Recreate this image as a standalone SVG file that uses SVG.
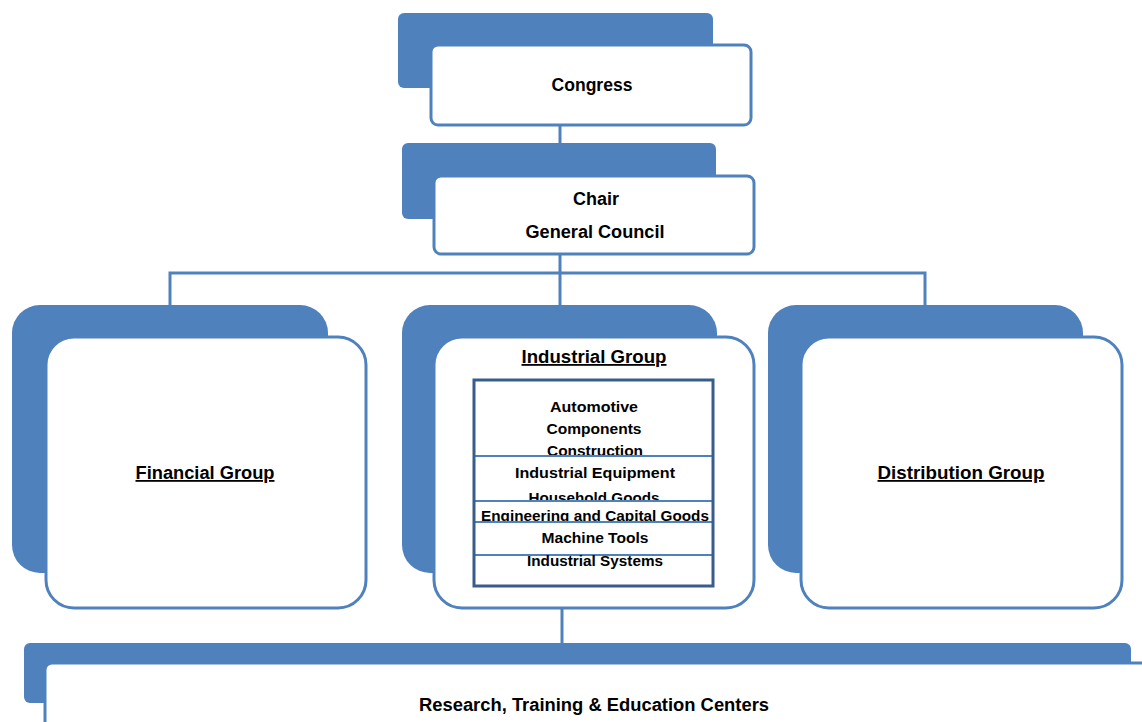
<svg xmlns="http://www.w3.org/2000/svg" width="1142" height="722" viewBox="0 0 1142 722">
  <style>
    .back { fill: #4f81bd; }
    .front { fill: #ffffff; stroke: #4f81bd; stroke-width: 3; }
    .conn { stroke: #4f81bd; stroke-width: 3; fill: none; }
    .cell { fill: #ffffff; stroke: #4f81bd; stroke-width: 2; }
    .frame { fill: none; stroke: #385d8a; stroke-width: 3; }
    text { font-family: "Liberation Sans", Arial, sans-serif; font-weight: bold; fill: #000; text-anchor: middle; }
    .t18 { font-size: 18px; }
    .t15 { font-size: 15px; }
    .u { text-decoration: underline; }
  </style>

  <rect width="1142" height="722" fill="#ffffff"/>

  <!-- connectors -->
  <g id="connectors">
    <line class="conn" x1="560" y1="124" x2="560" y2="176"/>
    <line class="conn" x1="560" y1="253" x2="560" y2="306"/>
    <polyline class="conn" points="170,306 170,273 925,273 925,306"/>
    <line class="conn" x1="562" y1="608" x2="562" y2="644"/>
  </g>

  <!-- Congress -->
  <g id="congress">
    <rect class="back" x="398" y="13" width="315" height="75" rx="6"/>
    <rect class="front" x="431" y="45" width="320" height="80" rx="7"/>
    <text class="t18" x="592" y="91" textLength="81" lengthAdjust="spacingAndGlyphs">Congress</text>
  </g>

  <!-- Chair / General Council -->
  <g id="chair">
    <rect class="back" x="402" y="143" width="314" height="76" rx="6"/>
    <rect class="front" x="434" y="176" width="320" height="78" rx="7"/>
    <text class="t18" x="596" y="205" textLength="46" lengthAdjust="spacingAndGlyphs">Chair</text>
    <text class="t18" x="595" y="238" textLength="139" lengthAdjust="spacingAndGlyphs">General Council</text>
  </g>

  <!-- Financial Group -->
  <g id="financial">
    <rect class="back" x="12" y="305" width="316" height="268" rx="28"/>
    <rect class="front" x="46" y="337" width="320" height="271" rx="28"/>
    <text class="t18 u" x="205" y="479" textLength="139" lengthAdjust="spacingAndGlyphs">Financial Group</text>
  </g>

  <!-- Industrial Group -->
  <g id="industrial">
    <rect class="back" x="402" y="305" width="315" height="268" rx="28"/>
    <rect class="front" x="434" y="337" width="320" height="271" rx="28"/>
    <text class="t18 u" x="594" y="363" textLength="145" lengthAdjust="spacingAndGlyphs">Industrial Group</text>

    <g id="industrial-sectors">
      <rect class="cell" x="474" y="380" width="239" height="76"/>
      <text class="t15" x="594" y="412" textLength="88" lengthAdjust="spacingAndGlyphs">Automotive</text>
      <text class="t15" x="594" y="434" textLength="95" lengthAdjust="spacingAndGlyphs">Components</text>
      <text class="t15" x="595" y="456" textLength="96" lengthAdjust="spacingAndGlyphs">Construction</text>

      <rect class="cell" x="474" y="456" width="239" height="45"/>
      <text class="t15" x="595" y="478" textLength="160" lengthAdjust="spacingAndGlyphs">Industrial  Equipment</text>
      <text class="t15" x="594" y="503" textLength="131" lengthAdjust="spacingAndGlyphs">Household Goods</text>

      <rect class="cell" x="474" y="501" width="239" height="21"/>
      <text class="t15" x="595" y="521" textLength="228" lengthAdjust="spacingAndGlyphs">Engineering and Capital Goods</text>

      <rect class="cell" x="474" y="522" width="239" height="33"/>
      <text class="t15" x="595" y="543" textLength="107" lengthAdjust="spacingAndGlyphs">Machine Tools</text>

      <rect class="cell" x="474" y="555" width="239" height="31"/>
      <text class="t15" x="595" y="566" textLength="136" lengthAdjust="spacingAndGlyphs">Industrial Systems</text>

      <rect class="frame" x="474" y="380" width="239" height="206"/>
    </g>
  </g>

  <!-- Distribution Group -->
  <g id="distribution">
    <rect class="back" x="768" y="305" width="315" height="268" rx="28"/>
    <rect class="front" x="801" y="337" width="321" height="271" rx="28"/>
    <text class="t18 u" x="961" y="479" textLength="167" lengthAdjust="spacingAndGlyphs">Distribution Group</text>
  </g>

  <!-- Research, Training & Education Centers -->
  <g id="research">
    <rect class="back" x="24" y="643" width="1107" height="60" rx="6"/>
    <rect class="front" x="45" y="663" width="1120" height="80" rx="7"/>
    <text class="t18" x="594" y="711" textLength="350" lengthAdjust="spacingAndGlyphs">Research, Training &amp; Education Centers</text>
  </g>
</svg>
